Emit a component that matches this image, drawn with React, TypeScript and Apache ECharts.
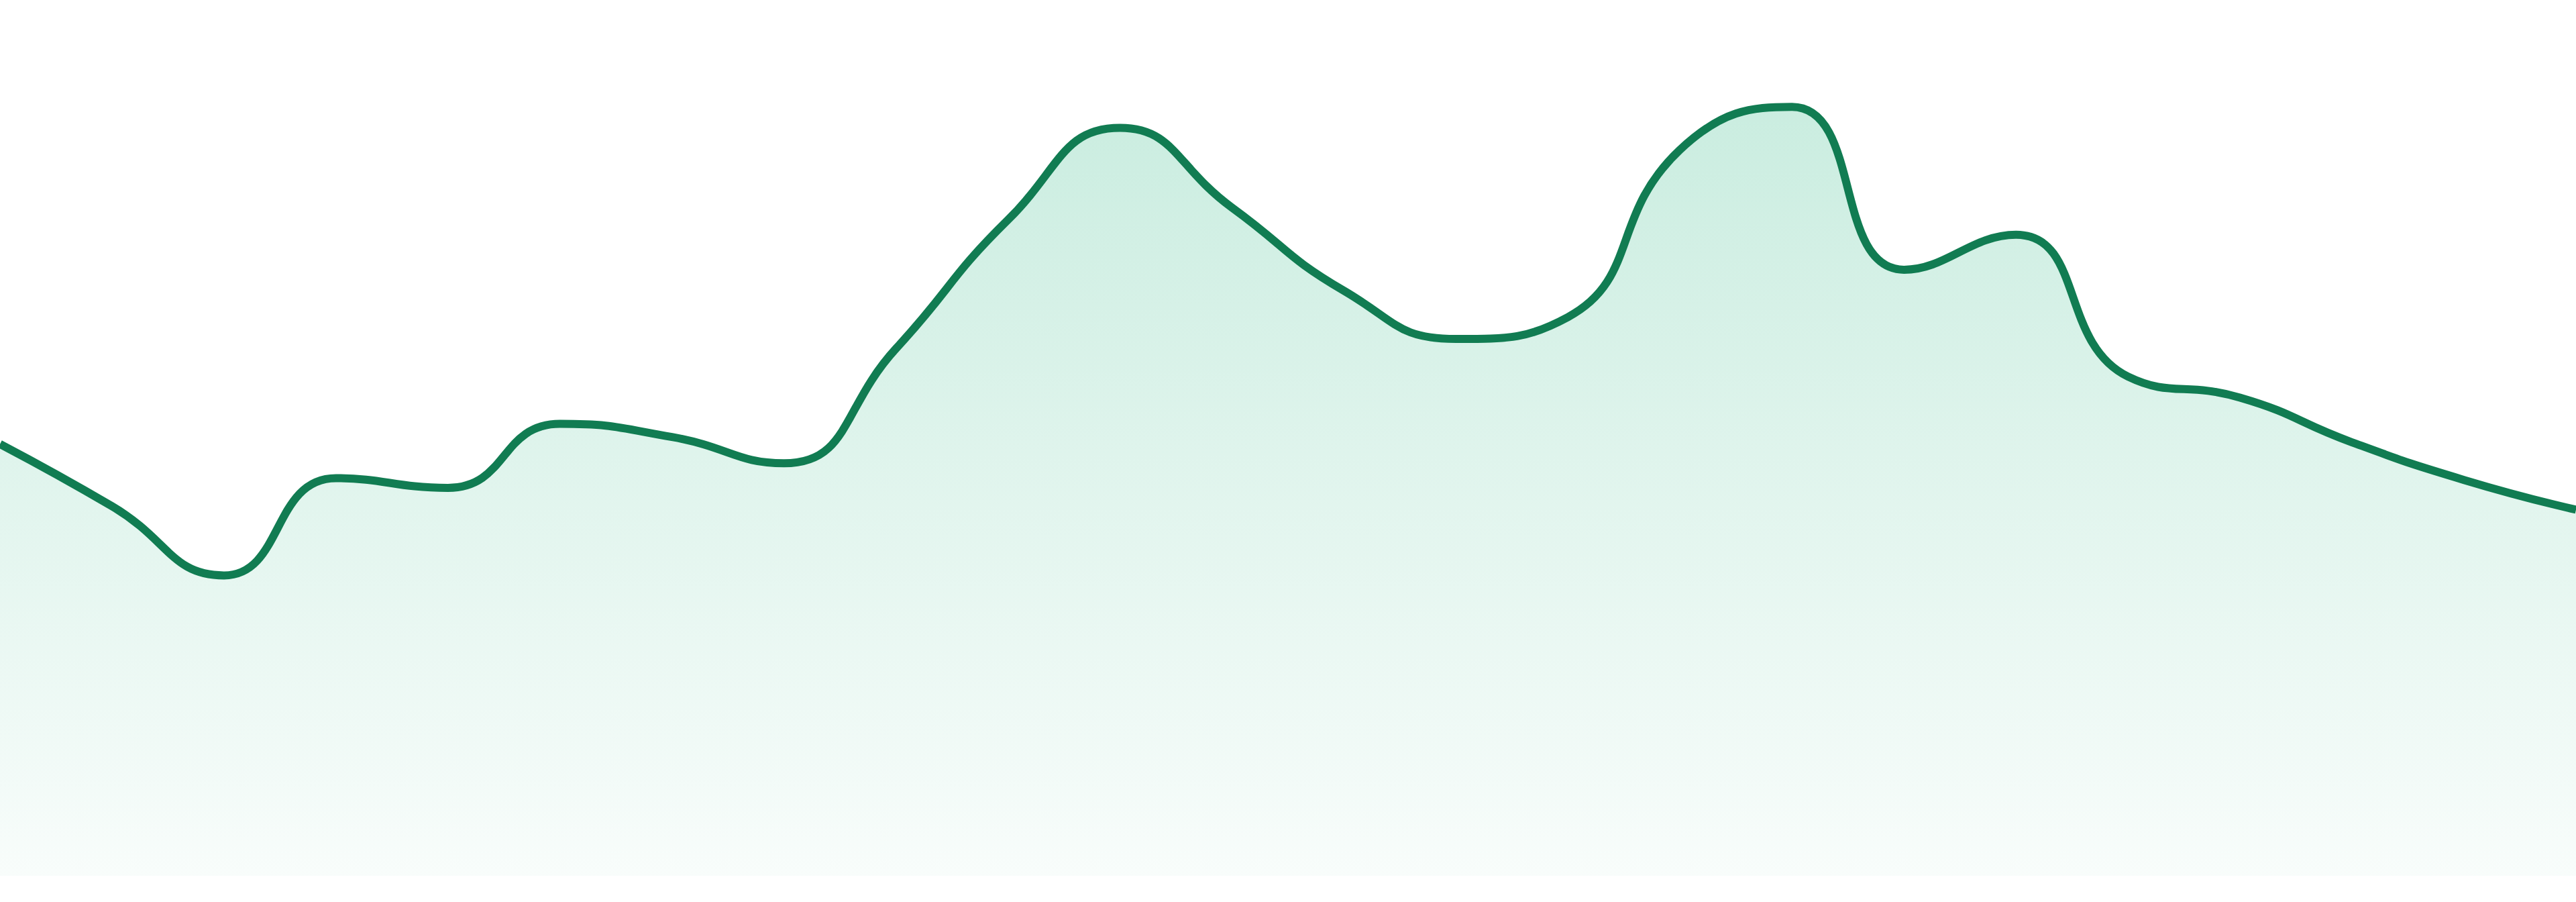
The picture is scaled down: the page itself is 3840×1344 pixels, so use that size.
import { useEffect, useRef } from "react";
import * as echarts from "echarts";

// 24 evenly spaced samples (axis 0-100)
const categories = [
  "1", "2", "3", "4", "5", "6", "7", "8", "9", "10", "11", "12",
  "13", "14", "15", "16", "17", "18", "19", "20", "21", "22", "23", "24",
];
const values = [
  49.3, 42.2, 34.3, 45.4, 44.3, 51.6, 50.1, 47.1, 60.2, 74.9, 85.4, 76.3,
  66.8, 61.3, 63.8, 82.9, 87.8, 69.2, 73.2, 57.0, 54.6, 49.5, 45.2, 41.8,
];

const lineColor = "#117c52";

export default function App() {
  const ref = useRef<HTMLDivElement | null>(null);

  useEffect(() => {
    if (!ref.current) return;
    const chart = echarts.init(ref.current, undefined, { renderer: "svg" });
    chart.setOption({
      animation: false,
      grid: { left: 0, right: 0, top: 0, bottom: 39 },
      xAxis: {
        type: "category",
        data: categories,
        boundaryGap: false,
        show: false,
      },
      yAxis: { type: "value", min: 0, max: 100, show: false },
      series: [
        {
          type: "line",
          data: values,
          smooth: true,
          symbol: "none",
          lineStyle: { color: lineColor, width: 12 },
          areaStyle: {
            color: new echarts.graphic.LinearGradient(0, 0, 0, 1, [
              { offset: 0, color: "rgba(12,172,112,0.31)" },
              { offset: 1, color: "rgba(12,172,112,0.04)" },
            ]),
          },
        },
      ],
    });

    return () => {
      chart.dispose();
    };
  }, []);

  return (
    <div
      ref={ref}
      style={{ position: "absolute", left: 0, top: 0, width: 3840, height: 1344, background: "#fff" }}
    />
  );
}
